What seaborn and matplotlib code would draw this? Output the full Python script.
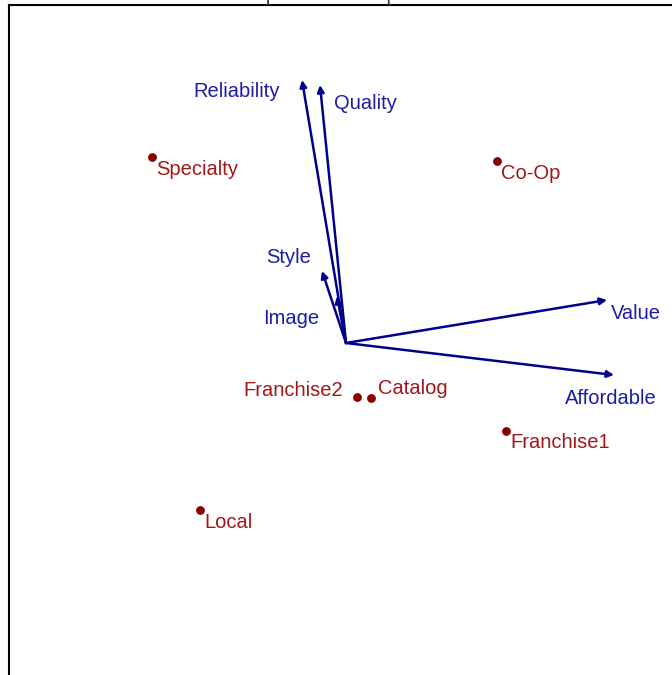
import matplotlib
matplotlib.use("Agg")
import matplotlib.pyplot as plt
import seaborn as sns
import pandas as pd

# biplot coordinates (dimension 1, dimension 2)
stores = ["Specialty", "Co-Op", "Franchise2", "Catalog", "Franchise1", "Local"]
store_x = [-1.94, 1.51, 0.11, 0.25, 1.60, -1.46]
store_y = [1.86, 1.82, -0.54, -0.55, -0.88, -1.67]

attributes = ["Reliability", "Quality", "Style", "Image", "Value", "Affordable"]
attr_x = [-0.44, -0.26, -0.24, -0.09, 2.61, 2.68]
attr_y = [2.63, 2.58, 0.72, 0.47, 0.43, -0.32]

# label offsets in points (dx, dy, ha)
store_offsets = {
    "Specialty": (3, -9, "left"), "Co-Op": (3, -9, "left"),
    "Franchise2": (-10, 5, "right"), "Catalog": (5, 7, "left"),
    "Franchise1": (3, -8, "left"), "Local": (3, -9, "left"),
}
attr_offsets = {
    "Reliability": (-16, -8, "right"), "Quality": (10, -13, "left"),
    "Style": (-8, 10, "right"), "Image": (-13, -16, "right"),
    "Value": (3, -10, "left"), "Affordable": (31, -17, "right"),
}

blue = "#00008b"
blue_txt = "#1c1ca8"
red = "#8b0000"
red_txt = "#a01818"

sns.set_theme(style="white")
plt.rcParams["font.family"] = ["Liberation Sans", "DejaVu Sans"]

fig = plt.figure(figsize=(6.72, 6.75), dpi=100)
ax = fig.add_axes([9 / 672, -25 / 675, 691 / 672, 695 / 675])
ax.set_xlim(-3.37, 3.54)
ax.set_ylim(-3.57, 3.38)

df = pd.DataFrame({"store": stores, "x": store_x, "y": store_y})
sns.scatterplot(data=df, x="x", y="y", color=red, s=40, edgecolor=red,
                linewidth=0, ax=ax, zorder=3)
for name, x, y in zip(stores, store_x, store_y):
    dx, dy, ha = store_offsets[name]
    ax.annotate(name, (x, y), xytext=(dx, dy), textcoords="offset points",
                ha=ha, va="center", color=red_txt, fontsize=14.5)

for name, x, y in zip(attributes, attr_x, attr_y):
    ax.annotate("", xy=(x, y), xytext=(0, 0),
                arrowprops=dict(arrowstyle="-|>", color=blue, lw=1.8,
                                mutation_scale=10, shrinkA=0, shrinkB=0))
    dx, dy, ha = attr_offsets[name]
    ax.annotate(name, (x, y), xytext=(dx, dy), textcoords="offset points",
                ha=ha, va="center", color=blue_txt, fontsize=14.5)

ax.set_xticks([])
ax.set_yticks([])
ax.set_xlabel("")
ax.set_ylabel("")
for sp in ax.spines.values():
    sp.set_color("black")
    sp.set_linewidth(1.5)

# title sits above the visible area, only its lowest strokes show
fig.text(365 / 672, 1 + 0.4 / 675, "Map for the Sample Data Set", ha="center",
         va="baseline", fontsize=16, family="Liberation Serif", color="#333333")

fig.savefig("out.png", dpi=100)
